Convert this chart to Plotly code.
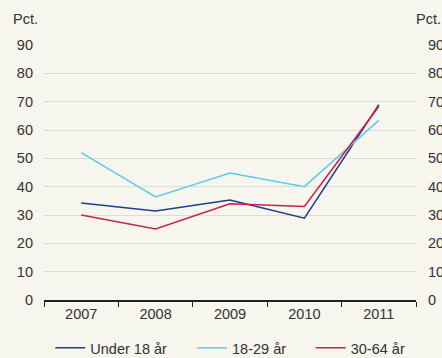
import plotly.graph_objects as go

years = ["2007", "2008", "2009", "2010", "2011"]
under18 = [34.2, 31.4, 35.3, 28.9, 68.9]
age18_29 = [52.0, 36.4, 44.8, 40.0, 63.4]
age30_64 = [30.0, 25.1, 34.0, 33.0, 68.3]
yticks = [0, 10, 20, 30, 40, 50, 60, 70, 80, 90]

names = ["Under 18 år", "18-29 år", "30-64 år"]
colors = ["#1c3f8c", "#5ccbef", "#c8204a"]
series = [under18, age18_29, age30_64]
legend_x = [0.017, 0.398, 0.717]

bg = "#f6f5ee"
font = "Liberation Sans, Arial, sans-serif"
fsize = 14.5
tcolor = "#333333"

fig = go.Figure()
legend_ids = ["legend", "legend2", "legend3"]
for n, c, s, lg in zip(names, colors, series, legend_ids):
    fig.add_trace(go.Scatter(x=years, y=s, name=n, mode="lines", legend=lg,
                             line=dict(color=c, width=1.5)))
fig.add_trace(go.Scatter(x=years, y=under18, yaxis="y2", mode="lines",
                         line=dict(width=0), showlegend=False, hoverinfo="skip"))

axis_y = dict(range=[0, 90], tickvals=yticks, showgrid=True, gridcolor="#dddcd4",
              gridwidth=1, zeroline=False, showline=False, ticks="", automargin=False,
              tickfont=dict(family=font, size=fsize, color=tcolor))

leg_common = dict(orientation="h", y=-0.188, yanchor="middle", xanchor="left",
                  font=dict(family=font, size=fsize, color=tcolor),
                  bgcolor="rgba(0,0,0,0)", borderwidth=0)
legends = {lg: dict(**leg_common, x=lx) for lg, lx in zip(legend_ids, legend_x)}

fig.update_layout(
    width=442, height=358,
    margin=dict(l=44, r=26, t=45, b=58, autoexpand=False),
    paper_bgcolor=bg, plot_bgcolor=bg,
    font=dict(family=font, size=fsize, color=tcolor),
    xaxis=dict(type="category", showgrid=False, showline=True, linecolor="#222222",
               linewidth=1.5, ticks="outside", ticklen=5, tickcolor="#222222",
               tickson="boundaries", range=[-0.5, 4.5], automargin=False,
               tickfont=dict(family=font, size=fsize, color=tcolor)),
    yaxis=dict(**axis_y, ticklabelstandoff=10),
    yaxis2=dict(**axis_y, overlaying="y", side="right", ticklabelstandoff=11),
    showlegend=True,
    **legends,
    annotations=[
        dict(text="Pct.", xref="paper", yref="paper", x=0, xshift=-33, y=1.0, yshift=26,
             xanchor="left", yanchor="middle", showarrow=False,
             font=dict(family=font, size=fsize, color=tcolor)),
        dict(text="Pct.", xref="paper", yref="paper", x=1.0, xshift=-2, y=1.0, yshift=26,
             xanchor="left", yanchor="middle", showarrow=False,
             font=dict(family=font, size=fsize, color=tcolor)),
    ],
)

fig.write_html("out.html", config={"displayModeBar": False},
               post_script="document.body.style.margin='0';document.body.style.overflow='hidden';")
